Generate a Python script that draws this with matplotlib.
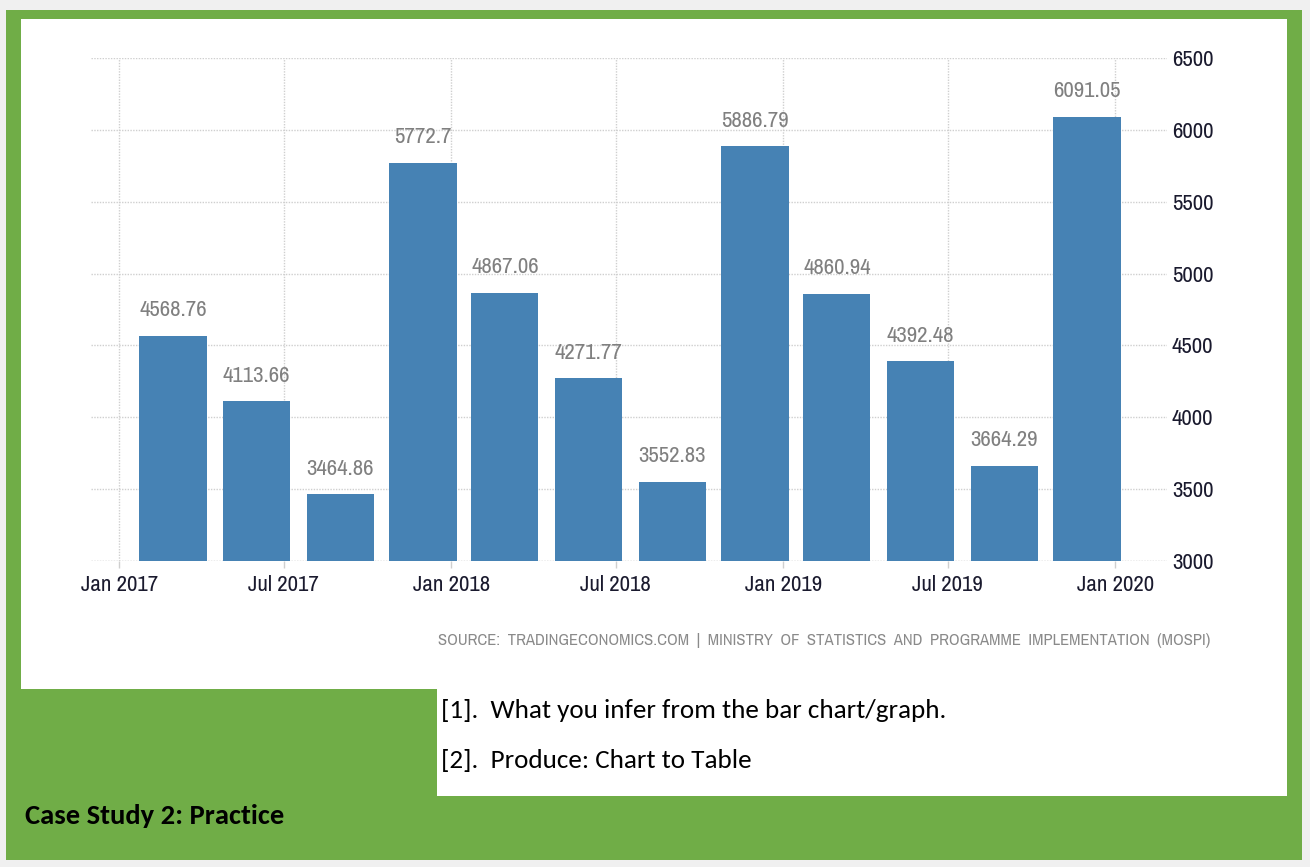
import datetime as dt
import matplotlib
matplotlib.use("Agg")
import matplotlib.pyplot as plt
import matplotlib.dates as mdates
from matplotlib.patches import Rectangle

# quarterly values, one bar per quarter (placed on the last month of the quarter)
quarters = ["2017-03", "2017-06", "2017-09", "2017-12",
            "2018-03", "2018-06", "2018-09", "2018-12",
            "2019-03", "2019-06", "2019-09", "2019-12"]
values = [4568.76, 4113.66, 3464.86, 5772.7,
          4867.06, 4271.77, 3552.83, 5886.79,
          4860.94, 4392.48, 3664.29, 6091.05]
value_labels = ["4568.76", "4113.66", "3464.86", "5772.7",
                "4867.06", "4271.77", "3552.83", "5886.79",
                "4860.94", "4392.48", "3664.29", "6091.05"]
tick_months = ["2017-01", "2017-07", "2018-01", "2018-07",
               "2019-01", "2019-07", "2020-01"]
y_ticks = [3000, 3500, 4000, 4500, 5000, 5500, 6000, 6500]

GREEN = "#70ad47"
PAGE = "#f0f0f0"
BAR = "#4682b4"
GRID = "#cfcfcf"
INK = "#1a1a2e"
LABEL = "#808080"
NARROW = ["Archivo Narrow", "Asap Condensed", "DejaVu Sans"]
BODY = ["Carlito", "Lato", "DejaVu Sans"]

W, H = 1310, 867


def fx(x):
    return x / W


def fy(y):
    return 1 - y / H


def to_date(s):
    y, m = s.split("-")
    return dt.datetime(int(y), int(m), 1)


fig = plt.figure(figsize=(W / 100, H / 100), dpi=100)
fig.patch.set_facecolor(PAGE)

# green card, white chart panel and white question box
def box(x0, y0, x1, y1, color):
    fig.add_artist(Rectangle((fx(x0), fy(y1)), fx(x1) - fx(x0), fy(y0) - fy(y1),
                             transform=fig.transFigure, facecolor=color,
                             edgecolor="none", zorder=0))

box(6, 10, 1302, 860, GREEN)
box(21, 19, 1287, 689, "white")
box(437, 689, 1287, 796, "white")

ax = fig.add_axes([fx(91), fy(561), fx(1167) - fx(91), fy(58) - fy(561)])
ax.set_facecolor("white")
ax.set_axisbelow(True)

dates = [to_date(q) for q in quarters]
ax.bar(dates, values, width=74, color=BAR, zorder=2)

for d, v, s in zip(dates, values, value_labels):
    ax.annotate(s, xy=(d, v), xytext=(0, 11), textcoords="offset points",
                ha="center", va="bottom", color=LABEL, fontsize=16.5,
                family=NARROW)

ax.set_ylim(3000, 6500)
ax.set_xlim(dt.datetime(2016, 12, 1), dt.datetime(2020, 2, 27))
ax.set_yticks(y_ticks)
ax.yaxis.tick_right()
ax.tick_params(axis="y", length=0, pad=3.5, labelsize=16.5, labelcolor=INK)
for t in ax.get_yticklabels():
    t.set_family(NARROW)

ax.set_xticks([to_date(m) for m in tick_months])
ax.xaxis.set_major_formatter(mdates.DateFormatter("%b %Y"))
ax.tick_params(axis="x", length=5, width=1, color=GRID, pad=5,
               labelsize=16.5, labelcolor=INK)
for t in ax.get_xticklabels():
    t.set_family(NARROW)

for sp in ax.spines.values():
    sp.set_visible(False)
ax.grid(True, color=GRID, linestyle=(0, (1, 1)), linewidth=1)
ax.axhline(3000, color=GRID, linestyle=(0, (1, 1)), linewidth=1, zorder=1)

fig.text(fx(1210), fy(641),
         "SOURCE:  TRADINGECONOMICS.COM  |  MINISTRY  OF  STATISTICS  AND  "
         "PROGRAMME  IMPLEMENTATION  (MOSPI)",
         ha="right", va="center", fontsize=12, color="#8a8a8a", family=NARROW)

fig.text(fx(441), fy(711), "[1].  What you infer from the bar chart/graph.",
         ha="left", va="center", fontsize=19.5, color="black", family=BODY)
fig.text(fx(441), fy(760), "[2].  Produce: Chart to Table",
         ha="left", va="center", fontsize=19.5, color="black", family=BODY)
fig.text(fx(25), fy(816), "Case Study 2: Practice",
         ha="left", va="center", fontsize=20.5, fontweight="bold",
         color="black", family=BODY)

fig.savefig("out.png", dpi=100, facecolor=PAGE)
